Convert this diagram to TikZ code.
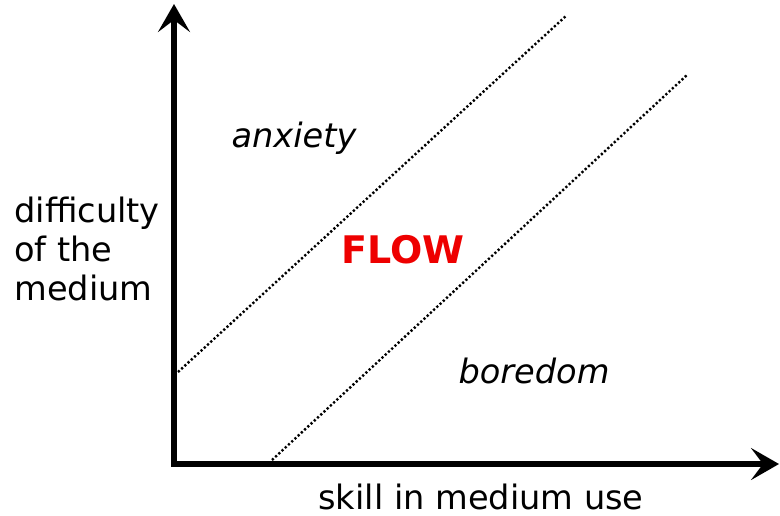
\documentclass[tikz,border=0pt]{standalone}
\usepackage{fontspec}
\setmainfont{DejaVu Sans}
\usetikzlibrary{arrows.meta,positioning}
\definecolor{Fc}{HTML}{EE0000}
\tikzset{
  axis/.style={line width=2.6pt, line join=miter, {Stealth[length=14pt, width=16pt, inset=6pt]}-{Stealth[length=14pt, width=16pt, inset=6pt]}},
  band/.style={line width=1.2pt, dash pattern=on 1.1pt off 1.1pt},
  lbl/.style={font=\fontsize{16.8}{19.3}\selectfont, inner sep=0pt, anchor=base},
  mood/.style={lbl, font=\fontsize{16.8}{19.3}\selectfont\itshape},
  flowlbl/.style={lbl, font=\fontsize{19}{22}\selectfont\bfseries, text=Fc},
}
\begin{document}
\begin{tikzpicture}[x=0.5pt, y=-0.5pt]
  \useasboundingbox (0,0) rectangle (780,515);
  \coordinate (O) at (174,464);
  \coordinate (ytip) at (174,4);
  \coordinate (xtip) at (779,464);
  \coordinate (a1) at (178,372);
  \coordinate (a2) at (567,15);
  \coordinate (b1) at (272,460);
  \coordinate (b2) at (687,75);
  \draw[band] (a1) -- (a2);
  \draw[band] (b1) -- (b2);
  \draw[axis] (ytip) -- (O) -- (xtip);
  \node[mood] (anx) at (294,147) {anxiety};
  \node[flowlbl] (flow) at (403,263) {FLOW};
  \node[mood] (bor) at (534,383) {boredom};
  \node[lbl] (skill) at (481,509) {skill in medium use};
  \node[lbl, anchor=base west, align=left] (diff) at (14,300) {difficulty\\of the\\medium};
\end{tikzpicture}
\end{document}
